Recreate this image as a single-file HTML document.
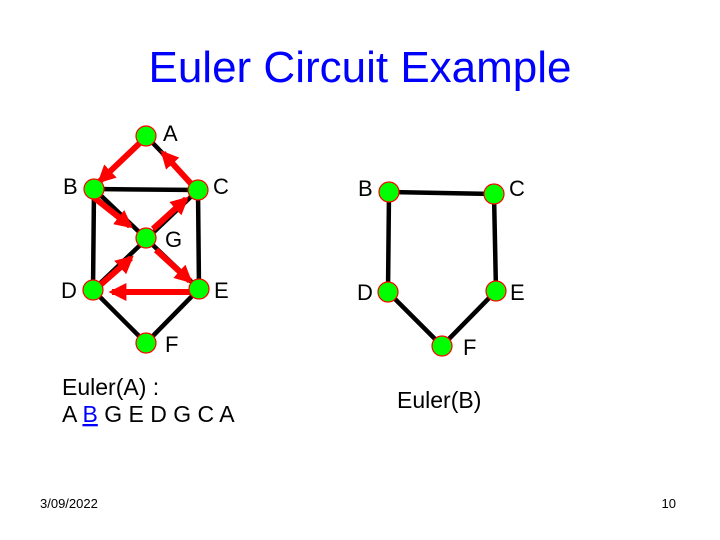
<!DOCTYPE html>
<html><head><style>
body{margin:0;background:#fff;}
svg{display:block;font-family:"Liberation Sans",Arial,sans-serif;}
</style></head><body>
<svg width="720" height="540" viewBox="0 0 720 540">
<defs>
<marker id="ah" viewBox="0 0 10 10" refX="8" refY="5" markerWidth="3" markerHeight="3" orient="auto" markerUnits="strokeWidth">
<path d="M0,0 L10,5 L0,10 z" fill="#f00"/></marker>
</defs>
<text x="360" y="82" text-anchor="middle" font-size="44" fill="#0000ff">Euler Circuit Example</text>
<g stroke="#000" stroke-width="4.5" fill="none">
<line x1="146" y1="136" x2="198" y2="190"/>
<line x1="94" y1="189" x2="198" y2="190"/>
<line x1="94" y1="189" x2="93" y2="290"/>
<line x1="198" y1="190" x2="199" y2="289"/>
<line x1="93" y1="290" x2="146" y2="343"/>
<line x1="199" y1="289" x2="146" y2="343"/>
<line x1="94" y1="189" x2="199" y2="289"/>
<line x1="93" y1="290" x2="198" y2="190"/>
<line x1="389" y1="192" x2="494" y2="194"/>
<line x1="389" y1="192" x2="388" y2="292"/>
<line x1="494" y1="194" x2="496" y2="291"/>
<line x1="388" y1="292" x2="442" y2="346"/>
<line x1="496" y1="291" x2="442" y2="346"/>
</g>
<g stroke="#f00" stroke-width="6" fill="none" marker-end="url(#ah)">
<line x1="144" y1="139" x2="100" y2="181"/>
<line x1="92" y1="196" x2="130" y2="226"/>
<line x1="153" y1="229" x2="186" y2="199"/>
<line x1="194" y1="187" x2="163" y2="153"/>
<line x1="156" y1="250" x2="190" y2="281"/>
<line x1="196" y1="292" x2="112" y2="292"/>
<line x1="98" y1="287" x2="131" y2="258"/>
</g>
<g fill="#00ff00" stroke="#ff0000" stroke-width="1.2">
<circle cx="146" cy="136" r="10"/><circle cx="94" cy="189" r="10"/>
<circle cx="198" cy="190" r="10"/><circle cx="146" cy="238" r="10"/>
<circle cx="93" cy="290" r="10"/><circle cx="199" cy="289" r="10"/>
<circle cx="146" cy="343" r="10"/>
<circle cx="389" cy="192" r="10"/><circle cx="494" cy="194" r="10"/>
<circle cx="388" cy="292" r="10"/><circle cx="496" cy="291" r="10"/>
<circle cx="442" cy="346" r="10"/>
</g>
<g font-size="22" fill="#000">
<text x="163" y="141">A</text><text x="63" y="194">B</text>
<text x="213" y="194">C</text><text x="165" y="247">G</text>
<text x="61" y="298">D</text><text x="214" y="298">E</text>
<text x="165" y="352">F</text>
<text x="358" y="196">B</text><text x="509" y="196">C</text>
<text x="357" y="300">D</text><text x="510" y="300">E</text>
<text x="463" y="355">F</text>
</g>
<g font-size="23" fill="#000">
<text x="62" y="395">Euler(A) :</text>
<text x="62" y="422">A <tspan fill="#0000ff" text-decoration="underline">B</tspan> G E D G C A</text>
<text x="397" y="408">Euler(B)</text>
</g>
<text x="40" y="508" font-size="13">3/09/2022</text>
<text x="676" y="508" font-size="13" text-anchor="end">10</text>
</svg>
</body></html>
